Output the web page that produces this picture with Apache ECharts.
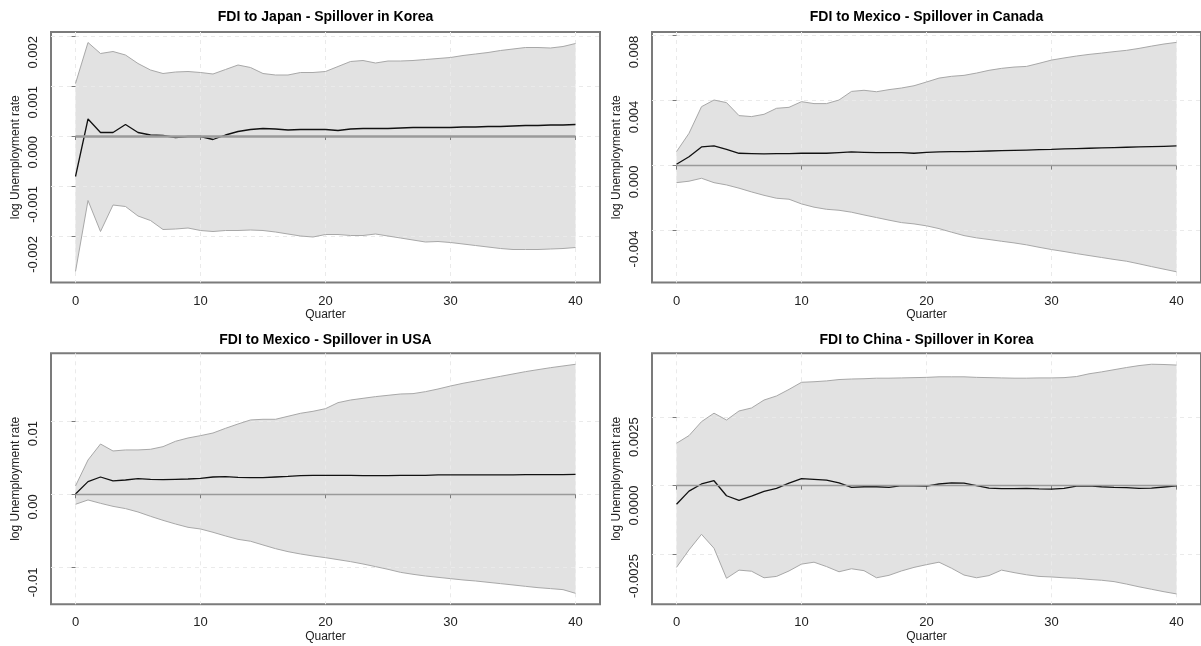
<!DOCTYPE html>
<html><head><meta charset="utf-8">
<script src="https://cdn.jsdelivr.net/npm/echarts@6/dist/echarts.min.js"></script>
<style>html,body{margin:0;padding:0;background:#fff}#c{width:1201px;height:646px}</style>
</head><body><div id="c"></div>
<script>
// ---------- DATA ----------
const quarters = [0,1,2,3,4,5,6,7,8,9,10,11,12,13,14,15,16,17,18,19,20,21,22,23,24,25,26,27,28,29,30,31,32,33,34,35,36,37,38,39,40];
const xTicks = [0,10,20,30,40];

const titles = [
  'FDI to Japan - Spillover in Korea',
  'FDI to Mexico - Spillover in Canada',
  'FDI to Mexico - Spillover in USA',
  'FDI to China - Spillover in Korea'
];

// Japan -> Korea
const jkUpper = [0.00105,0.00187,0.00165,0.00169,0.00162,0.00145,0.00132,0.00125,0.00128,0.00129,0.00127,0.00124,0.00133,0.00142,0.00137,0.00125,0.00122,0.00122,0.00127,0.00127,0.00129,0.00139,0.00149,0.00151,0.00146,0.0015,0.0015,0.00151,0.00153,0.00155,0.00157,0.00161,0.00164,0.00167,0.00171,0.00174,0.00177,0.00177,0.00176,0.00179,0.00185];
const jkLower = [-0.00271,-0.00129,-0.00191,-0.00138,-0.00141,-0.0016,-0.00169,-0.00187,-0.00186,-0.00184,-0.00189,-0.00191,-0.00189,-0.00189,-0.00188,-0.00189,-0.00192,-0.00196,-0.002,-0.00202,-0.00197,-0.00197,-0.00199,-0.00199,-0.00196,-0.002,-0.00204,-0.00208,-0.00212,-0.00211,-0.00213,-0.00216,-0.00219,-0.00222,-0.00225,-0.00227,-0.00227,-0.00227,-0.00226,-0.00225,-0.00223];
const jkIrf = [-0.00081,0.00034,0.00007,0.00007,0.00023,0.00007,0.00002,0.00001,-0.00003,-0.00001,-0.00001,-0.00007,0.00002,0.00009,0.00013,0.00015,0.00014,0.00012,0.00013,0.00013,0.00013,0.00011,0.00014,0.00015,0.00015,0.00015,0.00016,0.00017,0.00017,0.00017,0.00017,0.00018,0.00018,0.00019,0.00019,0.0002,0.00021,0.00021,0.00022,0.00022,0.00023];
const jkYTicks = [-0.002,-0.001,0,0.001,0.002];

// Mexico -> Canada
const mcUpper = [0.00086,0.00199,0.00363,0.00404,0.00388,0.00308,0.00302,0.00316,0.00353,0.00359,0.00394,0.00382,0.00382,0.00404,0.00457,0.00464,0.00455,0.00468,0.00478,0.00492,0.00515,0.00539,0.0055,0.00556,0.0057,0.00587,0.00599,0.00607,0.00611,0.0063,0.0065,0.00663,0.00675,0.00685,0.00693,0.00702,0.0071,0.00722,0.00736,0.00749,0.00759];
const mcLower = [-0.00105,-0.00096,-0.00078,-0.00105,-0.00119,-0.00139,-0.00162,-0.00183,-0.00201,-0.00207,-0.00236,-0.00256,-0.00269,-0.00275,-0.00287,-0.00304,-0.0032,-0.00336,-0.00351,-0.00359,-0.00371,-0.00388,-0.0041,-0.00431,-0.00445,-0.00455,-0.00466,-0.00476,-0.00488,-0.00503,-0.00517,-0.00529,-0.00542,-0.00554,-0.00566,-0.00578,-0.00589,-0.00605,-0.00622,-0.00638,-0.00654];
const mcIrf = [0.00008,0.00055,0.00115,0.00121,0.001,0.00076,0.00074,0.00072,0.00074,0.00074,0.00076,0.00076,0.00076,0.0008,0.00084,0.00082,0.0008,0.0008,0.0008,0.00076,0.00082,0.00084,0.00086,0.00086,0.00088,0.0009,0.00092,0.00094,0.00096,0.00098,0.001,0.00103,0.00105,0.00107,0.00109,0.00111,0.00113,0.00115,0.00117,0.00119,0.00121];
const mcYTicks = [-0.004,0,0.004,0.008];

// Mexico -> USA
const muUpper = [0.00114,0.00468,0.00686,0.00591,0.00605,0.00605,0.00614,0.0065,0.00723,0.00768,0.008,0.00836,0.009,0.00959,0.01014,0.01023,0.01023,0.01064,0.01105,0.01132,0.01168,0.0125,0.01286,0.01309,0.01332,0.0135,0.01368,0.01373,0.014,0.01436,0.01477,0.01514,0.01545,0.01577,0.01609,0.01641,0.01673,0.017,0.01727,0.0175,0.01773];
const muLower = [-0.00136,-0.00077,-0.00123,-0.00164,-0.00195,-0.00241,-0.003,-0.00355,-0.00405,-0.0045,-0.00473,-0.00518,-0.00568,-0.00614,-0.0064,-0.00691,-0.00741,-0.00782,-0.00814,-0.00841,-0.00864,-0.00891,-0.00918,-0.0095,-0.00986,-0.01023,-0.01064,-0.01091,-0.01114,-0.01132,-0.0115,-0.01168,-0.01182,-0.012,-0.01218,-0.01236,-0.01255,-0.01273,-0.01286,-0.013,-0.0135];
const muIrf = [0.00005,0.00173,0.00236,0.00182,0.00195,0.00214,0.00205,0.002,0.00205,0.00209,0.00218,0.00236,0.00241,0.00232,0.00227,0.00227,0.00236,0.00245,0.00255,0.00259,0.00259,0.00259,0.00259,0.00255,0.00255,0.00255,0.00259,0.00259,0.00259,0.00264,0.00264,0.00264,0.00264,0.00264,0.00264,0.00264,0.00268,0.00268,0.00268,0.00268,0.00273];
const muYTicks = [-0.01,0,0.01];

// China -> Korea
const ckUpper = [0.00155,0.00183,0.00234,0.00265,0.0024,0.00273,0.00284,0.00313,0.00328,0.00352,0.00378,0.0038,0.00383,0.00388,0.0039,0.00391,0.00393,0.00393,0.00394,0.00395,0.00396,0.00398,0.00398,0.00398,0.00396,0.00395,0.00394,0.00393,0.00393,0.00394,0.00394,0.00395,0.00399,0.00409,0.00416,0.00424,0.00432,0.00439,0.00444,0.00443,0.00441];
const ckLower = [-0.00299,-0.00235,-0.00178,-0.00229,-0.00339,-0.00309,-0.00313,-0.00337,-0.00332,-0.00312,-0.00287,-0.0028,-0.00296,-0.00315,-0.00304,-0.00311,-0.00337,-0.00328,-0.00312,-0.00299,-0.00289,-0.0028,-0.00302,-0.00327,-0.00337,-0.00329,-0.00309,-0.00318,-0.00326,-0.00332,-0.00334,-0.00337,-0.00339,-0.00343,-0.00346,-0.00351,-0.0036,-0.0037,-0.00379,-0.00388,-0.00396];
const ckIrf = [-0.00068,-0.0002,0.00006,0.00018,-0.00037,-0.00054,-0.00038,-0.00021,-0.0001,0.00009,0.00026,0.00023,0.0002,0.0001,-0.00006,-0.00004,-0.00004,-0.00006,0,-0.00001,-0.00002,0.00006,0.0001,0.00009,0,-0.00009,-0.00011,-0.00011,-0.0001,-0.00012,-0.00013,-0.0001,-0.00002,-0.00001,-0.00004,-0.00006,-0.00007,-0.0001,-0.00009,-0.00005,-0.00001];
const ckYTicks = [-0.0025,0,0.0025];

// ---------- LAYOUT / STYLE ----------
const panels = [
  {up: jkUpper, lo: jkLower, irf: jkIrf, yTicks: jkYTicks, dec: 3, yMin: -0.00293, yMax: 0.00208, zeroW: 2.6},
  {up: mcUpper, lo: mcLower, irf: mcIrf, yTicks: mcYTicks, dec: 3, yMin: -0.0072, yMax: 0.00823, zeroW: 1.4},
  {up: muUpper, lo: muLower, irf: muIrf, yTicks: muYTicks, dec: 2, yMin: -0.0150, yMax: 0.01923, zeroW: 1.4},
  {up: ckUpper, lo: ckLower, irf: ckIrf, yTicks: ckYTicks, dec: 4, yMin: -0.00434, yMax: 0.00484, zeroW: 1.4}
];
const boxes = [
  {left: 51,  top: 32,    width: 549, height: 250.5, titleTop: 10.5},
  {left: 652, top: 32,    width: 549, height: 250.5, titleTop: 10.5},
  {left: 51,  top: 353.3, width: 549, height: 251,   titleTop: 333},
  {left: 652, top: 353.3, width: 549, height: 251,   titleTop: 333}
];
const FONT = '"Liberation Sans", Arial, sans-serif';
const BORDER = '#7b7b7b';
const GRIDC = '#eaeaea';
const BANDFILL = '#e2e2e2';

const option = {
  animation: false,
  backgroundColor: '#fff',
  title: [], grid: [], xAxis: [], yAxis: [], series: []
};

// band polygon drawn once (on the first item) through the axis scales
function bandRenderItem(params, api) {
  if (params.dataIndexInside !== 0) return null;
  const n = params.dataInsideLength;
  const pts = [];
  for (let k = 0; k < n; k++) pts.push(api.coord([api.value(0, k), api.value(2, k)]));
  for (let k = n - 1; k >= 0; k--) pts.push(api.coord([api.value(0, k), api.value(1, k)]));
  return {type: 'polygon', shape: {points: pts}, style: {fill: BANDFILL, stroke: null}, silent: true};
}

panels.forEach((p, i) => {
  const b = boxes[i];
  option.title.push({
    text: titles[i], left: b.left + b.width / 2, top: b.titleTop, textAlign: 'center', padding: 0,
    textStyle: {fontFamily: FONT, fontSize: 14, fontWeight: 'bold', color: '#000'}
  });
  option.grid.push({
    left: b.left, top: b.top, width: b.width, height: b.height, containLabel: false,
    show: true, borderColor: BORDER, borderWidth: 2, backgroundColor: 'transparent'
  });
  option.xAxis.push({
    gridIndex: i, type: 'value', min: -1.96, max: 41.96, z: 1,
    axisLine: {show: false},
    axisTick: {show: true, customValues: xTicks, length: 4, lineStyle: {color: BORDER, width: 1}},
    axisLabel: {customValues: xTicks, margin: 12, fontSize: 13, color: '#222', fontFamily: FONT},
    splitLine: {show: true, lineStyle: {color: GRIDC, width: 1, type: [4, 4]}},
    name: 'Quarter', nameLocation: 'middle', nameGap: 26,
    nameTextStyle: {fontSize: 12, color: '#222', fontFamily: FONT}
  });
  option.yAxis.push({
    gridIndex: i, type: 'value', min: p.yMin, max: p.yMax, z: 1,
    axisLine: {show: false},
    axisTick: {show: true, customValues: p.yTicks, length: 4, lineStyle: {color: BORDER, width: 1}},
    axisLabel: {customValues: p.yTicks, rotate: 90, align: 'right', verticalAlign: 'middle', margin: 18,
      fontSize: 13, color: '#222', fontFamily: FONT, formatter: v => Number(v).toFixed(p.dec)},
    splitLine: {show: true, lineStyle: {color: GRIDC, width: 1, type: [4, 4]}},
    name: 'log Unemployment rate', nameLocation: 'middle', nameGap: 29,
    nameTextStyle: {fontSize: 12, color: '#222', fontFamily: FONT}
  });
  option.series.push({
    type: 'custom', xAxisIndex: i, yAxisIndex: i, silent: true, z: 0,
    data: quarters.map((q, k) => [q, p.lo[k], p.up[k]]),
    encode: {x: 0, y: [1, 2]},
    renderItem: bandRenderItem,
    clip: true
  });
  option.series.push({
    type: 'line', xAxisIndex: i, yAxisIndex: i, data: quarters.map((q, k) => [q, p.up[k]]),
    symbol: 'none', silent: true, lineStyle: {color: '#a8a8a8', width: 1}, z: 2
  });
  option.series.push({
    type: 'line', xAxisIndex: i, yAxisIndex: i, data: quarters.map((q, k) => [q, p.lo[k]]),
    symbol: 'none', silent: true, lineStyle: {color: '#a8a8a8', width: 1}, z: 2,
    markLine: {
      silent: true, symbol: 'none', label: {show: false}, animation: false,
      lineStyle: {color: '#9a9a9a', width: p.zeroW, type: 'solid'},
      data: [[{coord: [quarters[0], 0]}, {coord: [quarters[quarters.length - 1], 0]}]]
    }
  });
  option.series.push({
    type: 'line', xAxisIndex: i, yAxisIndex: i, data: quarters.map((q, k) => [q, p.irf[k]]),
    symbol: 'none', silent: true, lineStyle: {color: '#111', width: 1.3}, z: 3
  });
});

const chart = echarts.init(document.getElementById('c'), null, {renderer: 'canvas'});
chart.setOption(option);
</script>
</body></html>
